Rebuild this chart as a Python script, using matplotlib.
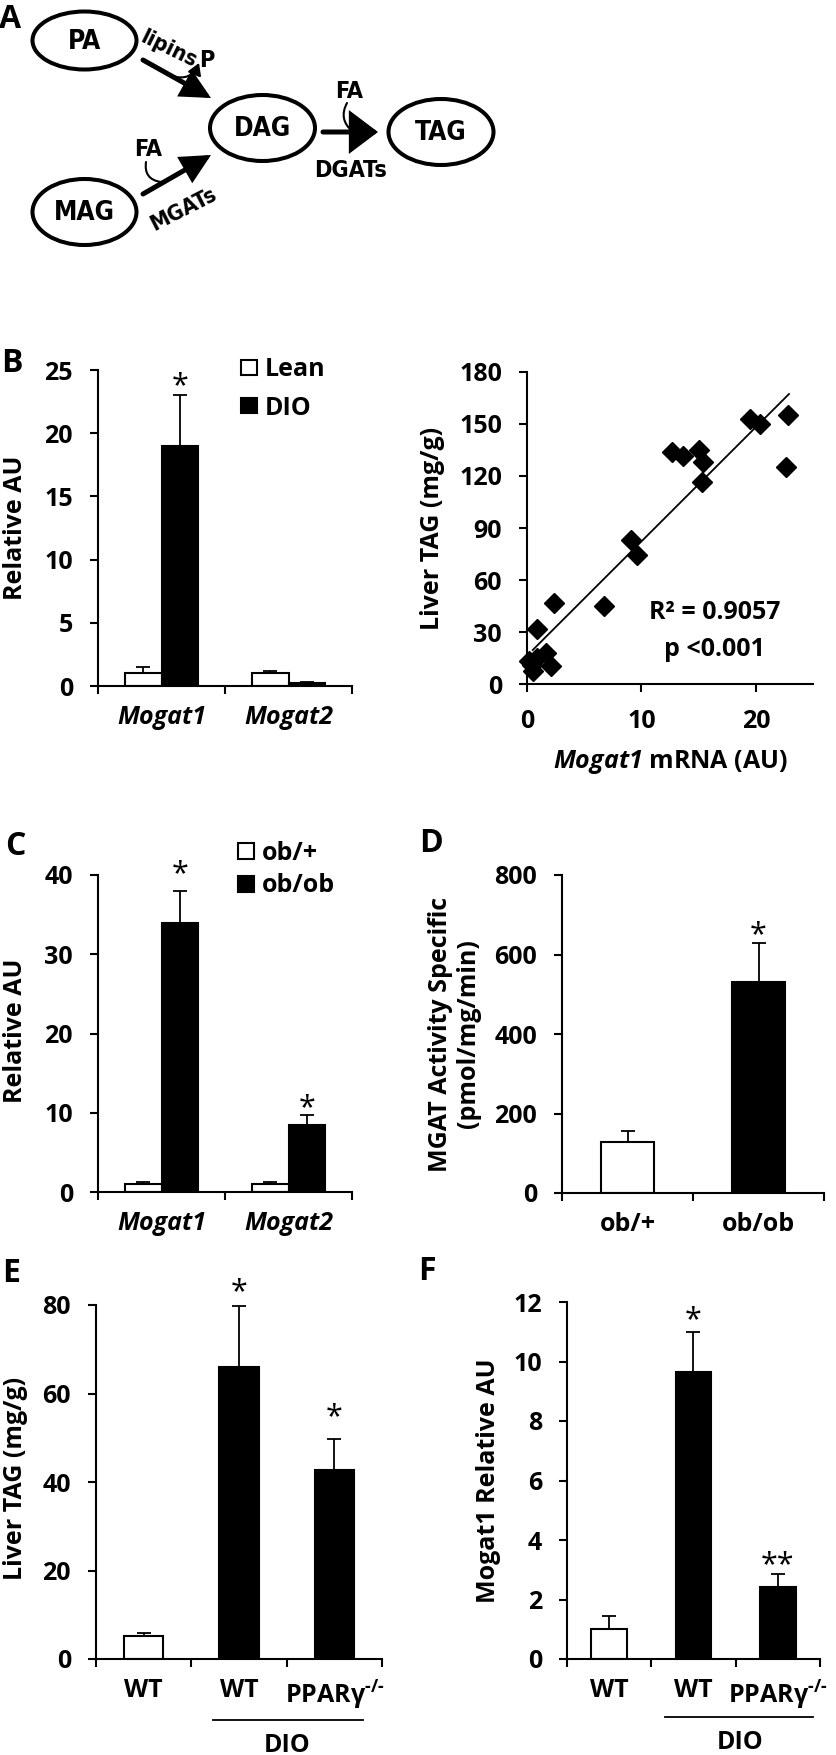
import numpy as np
import matplotlib
matplotlib.use('Agg')
import matplotlib.pyplot as plt
import matplotlib.font_manager as fm
from matplotlib.patches import Ellipse, FancyArrowPatch
from matplotlib.font_manager import FontProperties

# ------------------------------------------------------------------ data
# Panel B (left): hepatic Mogat expression, Lean vs DIO
b_categories = ['Mogat1', 'Mogat2']
b_lean = [1.0, 1.0]
b_lean_err = [0.5, 0.15]
b_dio = [19.0, 0.25]
b_dio_err = [4.0, 0.1]
b_yticks = [0, 5, 10, 15, 20, 25]
b_star_dio = ['*', '']
b_star_y_dio = [24.4, 0]

# Panel B (right): liver TAG vs Mogat1 mRNA
scatter_x = [22.8, 22.6, 19.5, 20.4, 12.7, 13.6, 15.0, 15.4, 15.3, 9.1, 9.6,
             6.7, 2.4, 0.84, 1.7, 2.1, 0.15, 0.4, 0.55, 0.9]
scatter_y = [155.0, 125.0, 152.7, 150.0, 134.0, 131.5, 135.0, 128.3, 116.7,
             83.0, 74.4, 45.0, 47.0, 32.0, 18.0, 10.5, 13.5, 11.0, 7.5, 15.0]
trend_x = [0.5, 22.9]
trend_y = [19.6, 167.3]
scatter_yticks = [0, 30, 60, 90, 120, 150, 180]
scatter_xticks = [0, 10, 20]
r2_label = 'R² = 0.9057'
p_label = 'p <0.001'

# Panel C: ob/+ vs ob/ob
c_categories = ['Mogat1', 'Mogat2']
c_obplus = [1.0, 1.0]
c_obplus_err = [0.25, 0.3]
c_obob = [34.0, 8.4]
c_obob_err = [4.0, 1.3]
c_yticks = [0, 10, 20, 30, 40]
c_star_obob = ['*', '*']
c_star_y_obob = [41.2, 11.7]

# Panel D: MGAT activity
d_categories = ['ob/+', 'ob/ob']
d_values = [128, 531]
d_err = [28, 98]
d_yticks = [0, 200, 400, 600, 800]
d_stars = ['', '*']
d_star_y = [0, 672]

# Panel E: liver TAG
e_categories = ['WT', 'WT', r'PPARγ$^{\text{-/-}}$']
e_values = [5.3, 66.0, 42.7]
e_err = [0.6, 13.8, 7.0]
e_yticks = [0, 20, 40, 60, 80]
e_stars = ['', '*', '*']
e_star_y = [0, 85.0, 56.7]

# Panel F: Mogat1 expression
f_categories = ['WT', 'WT', r'PPARγ$^{\text{-/-}}$']
f_values = [1.0, 9.65, 2.42]
f_err = [0.45, 1.35, 0.44]
f_yticks = [0, 2, 4, 6, 8, 10, 12]
f_stars = ['', '*', '**']
f_star_y = [0, 11.7, 3.45]

group_fill = ['white', 'black', 'black']

# ------------------------------------------------------------------ style
W, H, DPI = 836, 1755, 100
plt.rcParams['font.family'] = ['Open Sans', 'DejaVu Sans']
plt.rcParams['font.weight'] = 'bold'
plt.rcParams['axes.labelweight'] = 'bold'
plt.rcParams['mathtext.fontset'] = 'custom'
plt.rcParams['mathtext.rm'] = 'Open Sans:bold'
plt.rcParams['mathtext.it'] = 'Open Sans:italic:bold'
plt.rcParams['mathtext.sf'] = 'Open Sans:italic:bold'
plt.rcParams['mathtext.bf'] = 'Open Sans:bold'
plt.rcParams['axes.linewidth'] = 1.5

FS = 18
LW = 1.5


def _isbold(w):
    try:
        return int(w) >= 600
    except Exception:
        return str(w).lower() in ('bold', 'heavy', 'black', 'semibold',
                                  'demibold', 'extra bold', 'ultrabold')


cond_fp = None
for fe in fm.fontManager.ttflist:
    st = str(fe.stretch).lower()
    nm = fe.name.lower()
    if ('condensed' in st or 'narrow' in nm or 'condensed' in nm) and _isbold(fe.weight) \
            and str(fe.style) == 'normal':
        cond_fp = fe.fname
        break
if cond_fp:
    FP_A = lambda s: FontProperties(fname=cond_fp, size=s * 1.05)
else:
    FP_A = lambda s: FontProperties(family='Open Sans', weight='bold', size=s)

fig = plt.figure(figsize=(W / DPI, H / DPI), dpi=DPI)
fig.patch.set_facecolor('white')


def add_ax(x0, y0, x1, y1):
    return fig.add_axes([x0 / W, 1 - y1 / H, (x1 - x0) / W, (y1 - y0) / H])


def style_ax(ax, yticks):
    for s in ('top', 'right'):
        ax.spines[s].set_visible(False)
    ax.set_yticks(yticks, labels=[str(t) for t in yticks], fontweight='bold', fontsize=FS)
    ax.tick_params(axis='y', which='major', direction='out', length=6, width=LW,
                   labelsize=FS, pad=12)


def cat_axis(ax, n, labels, italic=False):
    ax.set_xlim(0, n)
    ax.set_xticks(np.arange(n + 1))
    ax.set_xticklabels([])
    ax.tick_params(axis='x', which='major', direction='out', length=6, width=LW)
    ax.set_xticks(np.arange(n) + 0.5, minor=True)
    ax.set_xticklabels(labels, minor=True, fontsize=FS, fontweight='bold',
                       fontstyle='italic' if italic else 'normal')
    ax.tick_params(axis='x', which='minor', length=0, pad=14)


def stars(ax, xs, ys, labels):
    for x, y, s in zip(xs, ys, labels):
        if s:
            ax.annotate(s, xy=(x, y), xytext=(0, -0.55 * 22), textcoords='offset points',
                        ha='center', va='baseline', fontsize=22, fontweight='normal',
                        annotation_clip=False)


ekw = dict(elinewidth=1.3, capthick=1.3, ecolor='black')
leg_kw = dict(loc='upper left', bbox_transform=fig.transFigure, frameon=False,
              prop={'size': FS, 'weight': 'bold'}, handlelength=0.65,
              handletextpad=0.3, borderpad=0, borderaxespad=0)

# ---------------------------------------------------------- Panel B left
axb = add_ax(98, 370, 352, 686)
xc = np.arange(len(b_categories)) + 0.5
bw = 0.29
h1 = axb.bar(xc - bw / 2, b_lean, bw, color='white', edgecolor='black', lw=LW,
             yerr=[np.zeros(2), b_lean_err], capsize=5, error_kw=ekw, label='Lean')
h2 = axb.bar(xc + bw / 2, b_dio, bw, color='black', edgecolor='black', lw=LW,
             yerr=[np.zeros(2), b_dio_err], capsize=5, error_kw=ekw, label='DIO')
axb.set_ylim(0, 25)
style_ax(axb, b_yticks)
cat_axis(axb, 2, b_categories, italic=True)
axb.set_ylabel('Relative AU', fontsize=FS, va='center', fontweight='bold')
axb.yaxis.set_label_coords(-0.323, 0.5)
stars(axb, xc + bw / 2, b_star_y_dio, b_star_dio)
axb.legend([h1, h2], ['Lean', 'DIO'], bbox_to_anchor=(241 / W, 1 - 357 / H),
           handleheight=0.55, labelspacing=0.55, **leg_kw)

# ---------------------------------------------------------- Panel B right
axs = add_ax(527, 372, 813, 684)
axs.plot(scatter_x, scatter_y, linestyle='none', marker='D', markersize=10.5,
         color='black', clip_on=False, zorder=3)
axs.plot(trend_x, trend_y, color='black', lw=1.3, zorder=2)
axs.set_xlim(0, 25)
axs.set_ylim(0, 180)
style_ax(axs, scatter_yticks)
axs.set_xticks(scatter_xticks, labels=[str(t) for t in scatter_xticks],
               fontweight='bold', fontsize=FS)
axs.tick_params(axis='x', direction='out', length=6, width=LW, labelsize=FS, pad=12)
axs.set_ylabel('Liver TAG (mg/g)', fontsize=FS, va='center', fontweight='bold')
axs.yaxis.set_label_coords(-0.329, 0.5)
axs.set_xlabel(r'$\mathsf{Mogat1}$ mRNA (AU)', fontsize=FS, fontweight='bold')
axs.xaxis.set_label_coords(0.5, -0.205)
axs.text(0.657, 0.228, r2_label, transform=axs.transAxes, ha='center', va='center',
         fontsize=FS, fontweight='bold')
axs.text(0.657, 0.109, p_label, transform=axs.transAxes, ha='center', va='center',
         fontsize=FS, fontweight='bold')

# ---------------------------------------------------------- Panel C
axc = add_ax(98, 875, 352, 1192)
xc = np.arange(len(c_categories)) + 0.5
bw = 0.29
g1 = axc.bar(xc - bw / 2, c_obplus, bw, color='white', edgecolor='black', lw=LW,
             yerr=[np.zeros(2), c_obplus_err], capsize=5, error_kw=ekw)
g2 = axc.bar(xc + bw / 2, c_obob, bw, color='black', edgecolor='black', lw=LW,
             yerr=[np.zeros(2), c_obob_err], capsize=5, error_kw=ekw)
axc.set_ylim(0, 40)
style_ax(axc, c_yticks)
cat_axis(axc, 2, c_categories, italic=True)
axc.set_ylabel('Relative AU', fontsize=FS, va='center', fontweight='bold')
axc.yaxis.set_label_coords(-0.323, 0.51)
stars(axc, xc + bw / 2, c_star_y_obob, c_star_obob)
axc.legend([g1, g2], ['ob/+', 'ob/ob'], bbox_to_anchor=(238 / W, 1 - 841 / H),
           handleheight=0.6, labelspacing=0.3, **leg_kw)

# ---------------------------------------------------------- Panel D
axd = add_ax(562, 875, 824, 1193)
xc = np.arange(len(d_categories)) + 0.5
axd.bar(xc, d_values, 0.40, color=group_fill[:2], edgecolor='black', lw=LW,
        yerr=[np.zeros(2), d_err], capsize=5, error_kw=ekw)
axd.set_ylim(0, 800)
style_ax(axd, d_yticks)
cat_axis(axd, 2, d_categories)
axd.set_ylabel('MGAT Activity Specific\n(pmol/mg/min)', fontsize=FS, va='center',
               linespacing=1.15, fontweight='bold')
axd.yaxis.set_label_coords(-0.41, 0.5)
stars(axd, xc, d_star_y, d_stars)

# ---------------------------------------------------------- Panel E
axe = add_ax(96, 1305, 382, 1659)
xc = np.arange(len(e_categories)) + 0.5
axe.bar(xc, e_values, 0.41, color=group_fill, edgecolor='black', lw=LW,
        yerr=[np.zeros(3), e_err], capsize=5, error_kw=ekw)
axe.set_ylim(0, 80)
style_ax(axe, e_yticks)
cat_axis(axe, 3, e_categories)
axe.set_ylabel('Liver TAG (mg/g)', fontsize=FS, va='center', fontweight='bold')
axe.yaxis.set_label_coords(-0.283, 0.51)
stars(axe, xc, e_star_y, e_stars)
tr = axe.get_xaxis_transform()
axe.plot([1.23, 2.80], [-0.172, -0.172], color='black', lw=1.3, transform=tr, clip_on=False)
axe.text(2.0, -0.243, 'DIO', transform=tr, ha='center', va='center', fontsize=FS,
         fontweight='bold')

# ---------------------------------------------------------- Panel F
axf = add_ax(567, 1302, 820, 1659)
xc = np.arange(len(f_categories)) + 0.5
axf.bar(xc, f_values, 0.42, color=group_fill, edgecolor='black', lw=LW,
        yerr=[np.zeros(3), f_err], capsize=5, error_kw=ekw)
axf.set_ylim(0, 12)
style_ax(axf, f_yticks)
cat_axis(axf, 3, f_categories)
axf.set_ylabel('Mogat1 Relative AU', fontsize=FS, va='center', fontweight='bold')
axf.yaxis.set_label_coords(-0.312, 0.5)
stars(axf, xc, f_star_y, f_stars)
tr = axf.get_xaxis_transform()
axf.plot([1.16, 2.92], [-0.162, -0.162], color='black', lw=1.3, transform=tr, clip_on=False)
axf.text(2.05, -0.235, 'DIO', transform=tr, ha='center', va='center', fontsize=FS,
         fontweight='bold')

# ---------------------------------------------------------- overlay: panel A + letters
ov = fig.add_axes([0, 0, 1, 1])
ov.set_xlim(0, W)
ov.set_ylim(H, 0)
ov.axis('off')

ELW = 2.9
for (cx, cy, w, h, lab) in [(84.5, 40.5, 104, 58, 'PA'), (84.5, 212, 104, 66, 'MAG'),
                            (262.5, 128, 105, 66, 'DAG'), (441, 132, 105, 66, 'TAG')]:
    ov.add_patch(Ellipse((cx, cy), w, h, fill=False, lw=ELW, ec='black'))
    ov.text(cx, cy + 1, lab, ha='center', va='center', fontproperties=FP_A(18))


def arrow(p0, p1, hl, hw, lw):
    ov.add_patch(FancyArrowPatch(p0, p1, arrowstyle=f'-|>,head_length={hl},head_width={hw}',
                                 mutation_scale=20, lw=lw, color='black',
                                 shrinkA=0, shrinkB=0, joinstyle='miter'))


arrow((143, 60), (211, 98), 0.8, 0.4, 3.6)
arrow((143, 194), (211, 155), 0.8, 0.4, 3.6)
arrow((323, 132), (378, 132), 0.81, 0.61, 3.6)

ov.add_patch(FancyArrowPatch((172, 76), (199, 63), connectionstyle='arc3,rad=0.45',
                             arrowstyle='-|>,head_length=0.5,head_width=0.3',
                             mutation_scale=14, lw=1.5, color='black', shrinkA=0, shrinkB=0))
ov.add_patch(FancyArrowPatch((146, 162), (161, 182), connectionstyle='arc3,rad=0.5',
                             arrowstyle='-', lw=1.5, color='black', shrinkA=0, shrinkB=0))
ov.add_patch(FancyArrowPatch((347, 103), (352, 131), connectionstyle='arc3,rad=0.4',
                             arrowstyle='-', lw=1.5, color='black', shrinkA=0, shrinkB=0))

ov.text(169, 49, 'lipins', rotation=-26, ha='center', va='center', fontproperties=FP_A(15))
ov.text(207, 60, 'P', ha='center', va='center', fontproperties=FP_A(16))
ov.text(148, 149, 'FA', ha='center', va='center', fontproperties=FP_A(16))
ov.text(183, 209, 'MGATs', rotation=27, ha='center', va='center', fontproperties=FP_A(15))
ov.text(349, 91, 'FA', ha='center', va='center', fontproperties=FP_A(16))
ov.text(351, 170, 'DGATs', ha='center', va='center', fontproperties=FP_A(16))

for (x, y, s) in [(10, 19, 'A'), (12, 363, 'B'), (15, 846, 'C'), (431, 843, 'D'),
                  (11, 1273, 'E'), (427, 1272, 'F')]:
    ov.text(x, y, s, ha='center', va='center', fontsize=23, fontweight='bold')

fig.savefig('out.png', dpi=DPI, facecolor='white')
